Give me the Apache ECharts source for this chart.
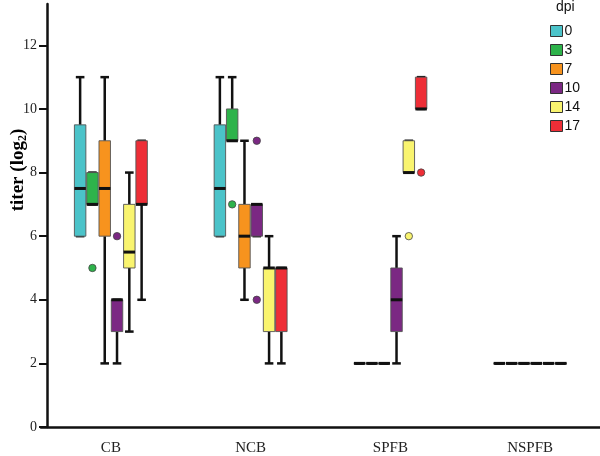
<!DOCTYPE html>
<html><head><meta charset="utf-8">
<script src="https://cdn.jsdelivr.net/npm/echarts@6/dist/echarts.min.js"></script>
<style>html,body{margin:0;padding:0;background:#fff}#c{width:600px;height:456px}</style>
</head><body><div id="c"></div>
<script>
const categories = ['CB', 'NCB', 'SPFB', 'NSPFB'];
const dpiNames = ['0', '3', '7', '10', '14', '17'];
const colors = ['#4BC3C9', '#2EB34B', '#F7931E', '#7B2883', '#F9F46F', '#EE2E37'];
// [min, Q1, median, Q3, max] for each category
const dpi0  = [[6, 6, 7.5, 9.5, 11], [6, 6, 7.5, 9.5, 11], [2, 2, 2, 2, 2], [2, 2, 2, 2, 2]];
const dpi3  = [[7, 7, 7, 8, 8], [9, 9, 9, 10, 11], [2, 2, 2, 2, 2], [2, 2, 2, 2, 2]];
const dpi7  = [[2, 6, 7.5, 9, 11], [4, 5, 6, 7, 9], [2, 2, 2, 2, 2], [2, 2, 2, 2, 2]];
const dpi10 = [[2, 3, 4, 4, 4], [6, 6, 7, 7, 7], [2, 3, 4, 5, 6], [2, 2, 2, 2, 2]];
const dpi14 = [[3, 5, 5.5, 7, 8], [2, 3, 5, 5, 6], [8, 8, 8, 9, 9], [2, 2, 2, 2, 2]];
const dpi17 = [[4, 7, 7, 9, 9], [2, 3, 5, 5, 5], [10, 10, 10, 11, 11], [2, 2, 2, 2, 2]];
// outliers: [category index, value]
const out0  = [];
const out3  = [[0, 5], [1, 7]];
const out7  = [];
const out10 = [[0, 6], [1, 9], [1, 4]];
const out14 = [[2, 6]];
const out17 = [[2, 8]];
const yTicks = [0, 2, 4, 6, 8, 10, 12];

const boxSets = [dpi0, dpi3, dpi7, dpi10, dpi14, dpi17];
const outSets = [out0, out3, out7, out10, out14, out17];

const STEP = 0.088, BOXW = 0.082;

function boxRender(si) {
  return function (params, api) {
    const cat = api.value(0);
    const band = api.size([1, 0])[0];
    const w = band * BOXW;
    const cx = api.coord([cat, 0])[0] + (si - 2.5) * band * STEP;
    const y = k => api.coord([cat, api.value(k)])[1];
    const ymin = y(1), yq1 = y(2), ymed = y(3), yq3 = y(4), ymax = y(5);
    const capW = w * 0.75;
    const lineStyle = { stroke: '#111', lineWidth: 2.5 };
    const children = [];
    if (ymin !== yq1) children.push({ type: 'line', shape: { x1: cx, y1: yq1, x2: cx, y2: ymin }, style: lineStyle });
    if (ymax !== yq3) children.push({ type: 'line', shape: { x1: cx, y1: yq3, x2: cx, y2: ymax }, style: lineStyle });
    children.push({ type: 'line', shape: { x1: cx - capW / 2, y1: ymin, x2: cx + capW / 2, y2: ymin }, style: lineStyle });
    children.push({ type: 'line', shape: { x1: cx - capW / 2, y1: ymax, x2: cx + capW / 2, y2: ymax }, style: lineStyle });
    children.push({ type: 'rect', shape: { x: cx - w / 2, y: yq3, width: w, height: yq1 - yq3 },
      style: { fill: colors[si], stroke: '#555', lineWidth: 0.9 } });
    children.push({ type: 'line', shape: { x1: cx - w / 2, y1: ymed, x2: cx + w / 2, y2: ymed },
      style: { stroke: '#111', lineWidth: 3 } });
    return { type: 'group', children };
  };
}
function outRender(si) {
  return function (params, api) {
    const cat = api.value(0);
    const band = api.size([1, 0])[0];
    const p = api.coord([cat, api.value(1)]);
    return { type: 'circle', shape: { cx: p[0] + (si - 2.5) * band * STEP, cy: p[1], r: 3.7 },
      style: { fill: colors[si], stroke: '#444', lineWidth: 0.8 } };
  };
}

const series = [];
dpiNames.forEach((name, si) => {
  series.push({
    type: 'custom', name, renderItem: boxRender(si),
    itemStyle: { color: colors[si], borderColor: '#333', borderWidth: 1 },
    encode: { x: 0, y: [1, 2, 3, 4, 5] },
    data: boxSets[si].map((v, ci) => [ci].concat(v))
  });
});
dpiNames.forEach((name, si) => {
  series.push({
    type: 'custom', name, renderItem: outRender(si),
    itemStyle: { color: colors[si], borderColor: '#333', borderWidth: 1 },
    encode: { x: 0, y: 1 },
    data: outSets[si]
  });
});

const chart = echarts.init(document.getElementById('c'));
chart.setOption({
  animation: false,
  backgroundColor: '#fff',
  title: { text: 'dpi', left: 556, top: 0, padding: 0,
    textStyle: { fontFamily: 'Liberation Sans', fontSize: 14, fontWeight: 'normal', color: '#111' } },
  legend: {
    data: dpiNames, orient: 'vertical', left: 550, top: 24, padding: 0,
    icon: 'rect', itemWidth: 12, itemHeight: 11, itemGap: 5,
    itemStyle: { borderColor: '#333', borderWidth: 1 },
    textStyle: { fontFamily: 'Liberation Sans', fontSize: 14, color: '#111', lineHeight: 11, padding: [0, 0, 0, -3] }
  },
  grid: { left: 41, top: 4, width: 564, height: 427 },
  xAxis: {
    type: 'category', data: categories,
    axisLine: { lineStyle: { color: '#111', width: 2.5 } },
    axisTick: { alignWithLabel: true, length: 6, lineStyle: { color: '#111', width: 2.5 } },
    axisLabel: { margin: 14, fontFamily: 'Liberation Serif', fontSize: 15, color: '#222' },
    splitLine: { show: false }
  },
  yAxis: {
    type: 'value', min: 0, max: 13.3, interval: 2, offset: -6,
    axisLine: { show: true, lineStyle: { color: '#111', width: 2.5 } },
    axisTick: { show: true, length: 8, customValues: yTicks, lineStyle: { color: '#111', width: 2 } },
    axisLabel: { margin: 10, customValues: yTicks, fontFamily: 'Liberation Serif', fontSize: 14, color: '#222' },
    splitLine: { show: false }
  },
  graphic: [{
    type: 'text', x: 18, y: 170, rotation: Math.PI / 2,
    style: {
      text: '{a|titer (log}{s|2}{a|)}', align: 'center', verticalAlign: 'middle',
      rich: {
        a: { fontFamily: 'Liberation Serif', fontWeight: 'bold', fontSize: 19, color: '#111', lineHeight: 22, verticalAlign: 'middle' },
        s: { fontFamily: 'Liberation Serif', fontWeight: 'bold', fontSize: 12, color: '#111', lineHeight: 22, verticalAlign: 'bottom' }
      }
    }
  }],
  series
});
</script>
</body></html>
